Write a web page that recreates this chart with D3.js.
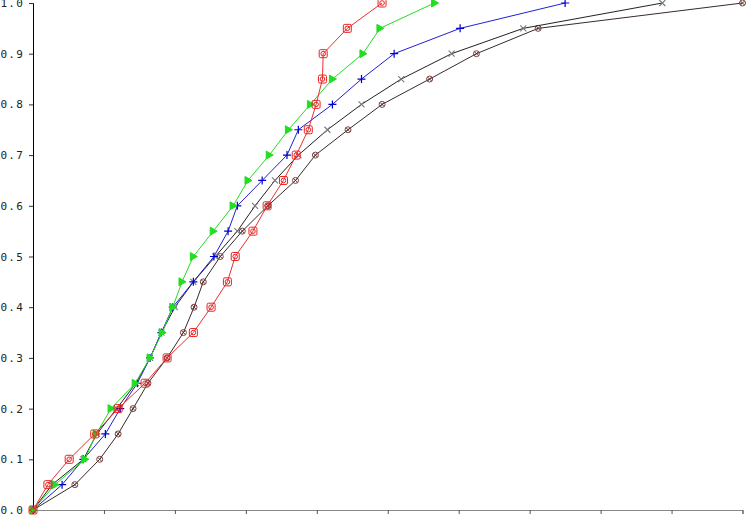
<!DOCTYPE html>
<html><head><meta charset="utf-8">
<script src="https://cdn.jsdelivr.net/npm/d3@7"></script>
<style>body{margin:0;background:#fff}svg{display:block}</style>
</head><body>
<svg id="c" width="746" height="515"></svg>
<script>
const yLevels = [0,0.05,0.1,0.15,0.2,0.25,0.3,0.35,0.4,0.45,0.5,0.55,0.6,0.65,0.7,0.75,0.8,0.85,0.9,0.95,1.0];
const redX = [0,0.21,0.51,0.87,1.20,1.58,1.89,2.26,2.51,2.74,2.85,3.10,3.30,3.53,3.71,3.88,3.99,4.08,4.09,4.43,4.92];
const greenX = [0,0.31,0.73,0.89,1.10,1.44,1.65,1.82,1.97,2.10,2.26,2.54,2.82,3.03,3.33,3.60,3.91,4.22,4.65,4.89,5.66];
const blueX = [0,0.41,0.71,1.02,1.23,1.47,1.65,1.81,1.97,2.26,2.55,2.75,2.88,3.23,3.58,3.74,4.22,4.63,5.09,6.02,7.50];
const blackX = [0,0.27,0.71,0.90,1.18,1.45,1.65,1.81,2.00,2.26,2.57,2.88,3.13,3.41,3.74,4.15,4.63,5.19,5.90,6.91,8.87];
const darkX = [0,0.59,0.94,1.20,1.41,1.62,1.89,2.12,2.27,2.40,2.64,2.95,3.31,3.70,3.98,4.44,4.92,5.59,6.25,7.12,10.0];
const yTicks = [0,0.1,0.2,0.3,0.4,0.5,0.6,0.7,0.8,0.9,1.0];
const xTicks = [0,1,2,3,4,5,6,7,8,9,10];

const svg = d3.select("#c");
const x = d3.scaleLinear().domain([0,10]).range([33,742.5]);
const y = d3.scaleLinear().domain([0,1]).range([510,3]);

// axes
const xa = svg.append("g").attr("transform","translate(0,510)")
  .call(d3.axisBottom(x).tickValues(xTicks).tickSize(4).tickFormat(""));
xa.select(".domain").attr("stroke","#888");
xa.selectAll(".tick line").attr("stroke","#555");

const ya = svg.append("g").attr("transform","translate(33,0)")
  .call(d3.axisLeft(y).tickValues(yTicks).tickSize(4).tickPadding(5).tickFormat(d3.format(".1f")));
ya.select(".domain").attr("stroke","#000");
ya.selectAll(".tick line").attr("stroke","#333");
ya.selectAll(".tick text").attr("font-family","'DejaVu Sans Mono', monospace")
  .attr("font-size",11).attr("letter-spacing","1.2px").attr("fill","#222");

const series = [
  {xs: darkX, line:"#3a2a2a", mk:"#8a3a3a", type:"dark"},
  {xs: blackX, line:"#222", mk:"#777", type:"x"},
  {xs: blueX, line:"#2020d0", mk:"#0000cc", type:"plus"},
  {xs: greenX, line:"#22dd22", mk:"#22dd22", type:"tri"},
  {xs: redX, line:"#e83030", mk:"#e82020", type:"sq"}
];

const lineGen = d3.line().x(d=>x(d[0])).y(d=>y(d[1]));

series.forEach(s=>{
  const pts = s.xs.map((v,i)=>[v,yLevels[i]]);
  svg.append("path").datum(pts).attr("d",lineGen)
    .attr("fill","none").attr("stroke",s.line).attr("stroke-width",1);
  const g = svg.append("g");
  pts.forEach(p=>{
    const cx = x(p[0]), cy = y(p[1]);
    const m = g.append("g").attr("transform",`translate(${cx},${cy})`);
    if(s.type==="sq"){
      m.append("rect").attr("x",-4).attr("y",-4).attr("width",8).attr("height",8).attr("rx",1.5)
        .attr("fill","none").attr("stroke",s.mk).attr("stroke-width",1);
      m.append("circle").attr("r",2.3).attr("fill","none").attr("stroke",s.mk).attr("stroke-width",1);
    } else if(s.type==="tri"){
      m.append("path").attr("d","M-3,-4L4,0L-3,4Z").attr("fill",s.mk).attr("stroke",s.mk).attr("stroke-width",1);
    } else if(s.type==="plus"){
      m.append("path").attr("d","M-4,0H4M0,-4V4").attr("stroke",s.mk).attr("stroke-width",1.2);
    } else if(s.type==="x"){
      m.append("path").attr("d","M-3,-3L3,3M-3,3L3,-3").attr("stroke",s.mk).attr("stroke-width",1.1);
    } else {
      m.append("circle").attr("r",3).attr("fill","none").attr("stroke",s.mk).attr("stroke-width",1);
      m.append("path").attr("d","M-2,-2L2,2M-2,2L2,-2").attr("stroke","#333").attr("stroke-width",0.9);
    }
  });
});
</script>
</body></html>
